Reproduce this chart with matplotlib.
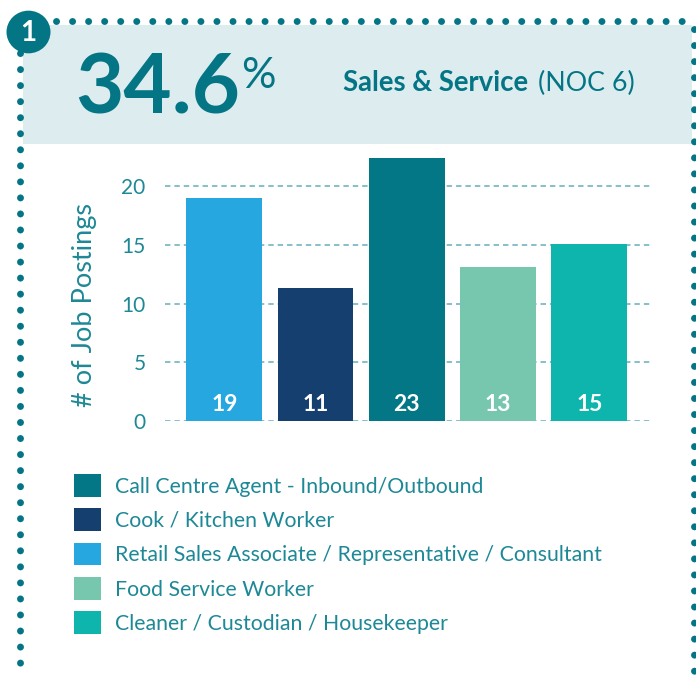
import matplotlib
matplotlib.use("Agg")
import matplotlib.pyplot as plt
from matplotlib.patches import Rectangle, Circle, Patch
from matplotlib.lines import Line2D

# ---- data ----
categories = ["Retail Sales Associate / Representative / Consultant",
              "Cook / Kitchen Worker",
              "Call Centre Agent - Inbound/Outbound",
              "Food Service Worker",
              "Cleaner / Custodian / Housekeeper"]
bar_heights = [19.0, 11.3, 22.4, 13.1, 15.1]
value_labels = ["19", "11", "23", "13", "15"]
bar_colors = ["#27A7E0", "#153F6E", "#037786", "#77C7AE", "#0DB5AD"]
legend_order = [2, 1, 0, 3, 4]
yticks = [0, 5, 10, 15, 20]
headline_value = "34.6"
headline_unit = "%"
title_bold = "Sales & Service"
title_normal = "(NOC 6)"
badge = "1"

W, H = 696, 675
plt.rcParams['font.family'] = ['Lato', 'DejaVu Sans']
fig = plt.figure(figsize=(W / 100, H / 100), dpi=100)

TEAL = "#037584"
TXT = "#1D8896"

def fx(px):
    return px / W

def fy(py):
    return 1 - py / H

# header band
fig.add_artist(Rectangle((fx(23), fy(144)), fx(692) - fx(23), fy(25) - fy(144),
                         transform=fig.transFigure, facecolor="#DDECEF",
                         edgecolor="none", zorder=0))

# dotted border
dot_kw = dict(transform=fig.transFigure, color=TEAL, lw=5.0,
              linestyle=(0, (0.01, 2.3)), solid_capstyle='round',
              dash_capstyle='round', zorder=2)
fig.add_artist(Line2D([fx(56), fx(693)], [fy(21), fy(21)], **dot_kw))
fig.add_artist(Line2D([fx(20), fx(20)], [fy(53), fy(680)], **dot_kw))
fig.add_artist(Line2D([fx(694), fx(694)], [fy(29), fy(680)], **dot_kw))

# badge circle
fig.add_artist(Circle((fx(28.5), fy(32)), radius=22 / W, transform=fig.transFigure,
                      facecolor=TEAL, edgecolor="none", zorder=3))
fig.text(fx(28.5), fy(33), badge, color="white", fontsize=20, fontweight="bold",
         ha="center", va="center", zorder=4)

# headline
fig.text(fx(75), fy(113), headline_value, color=TEAL, fontsize=60, fontweight="bold",
         ha="left", va="baseline")
fig.text(fx(241), fy(88), headline_unit, color=TEAL, fontsize=31,
         ha="left", va="baseline")
fig.text(fx(343), fy(91), title_bold, color=TEAL, fontsize=19.8, fontweight="bold",
         ha="left", va="baseline")
fig.text(fx(538), fy(91), title_normal, color=TEAL, fontsize=19.3,
         ha="left", va="baseline")

# chart axes
ymax = 23
ax_top = 421 - ymax * 11.75
ax = fig.add_axes([fx(165), fy(421), fx(650) - fx(165), fy(ax_top) - fy(421)])
x = list(range(len(categories)))
ax.bar(x, bar_heights, width=0.83, color=bar_colors, zorder=3)
for xi, lab in zip(x, value_labels):
    ax.text(xi, 1.4, lab, color="white", fontsize=16.5, fontweight="bold",
            ha="center", va="center", zorder=4)
ax.set_xlim(-0.65, len(categories) - 1 + 0.665)
ax.set_ylim(0, ymax)
ax.set_yticks(yticks)
ax.set_xticks([])
for yv in yticks:
    ax.axhline(yv, color="#7DBBC6", lw=1.3, linestyle=(0, (3, 2.2)), zorder=1)
for s in ax.spines.values():
    s.set_visible(False)
ax.tick_params(axis='y', length=0, pad=14, labelsize=15, labelcolor=TXT)
ax.set_ylabel("# of Job Postings", color=TXT, fontsize=19.5)
ax.yaxis.set_label_coords(-0.14, 0.43)
ax.patch.set_alpha(0)

# legend
handles = [Patch(facecolor=bar_colors[i], edgecolor="none") for i in legend_order]
labels = [categories[i] for i in legend_order]
fig.legend(handles, labels, loc="upper left", bbox_to_anchor=(fx(74), fy(474)),
           frameon=False, fontsize=15.35, labelcolor=TXT, handlelength=1.27,
           handleheight=1.27, handletextpad=0.63, labelspacing=0.54,
           borderpad=0, borderaxespad=0)

fig.savefig("out.png", dpi=100)
